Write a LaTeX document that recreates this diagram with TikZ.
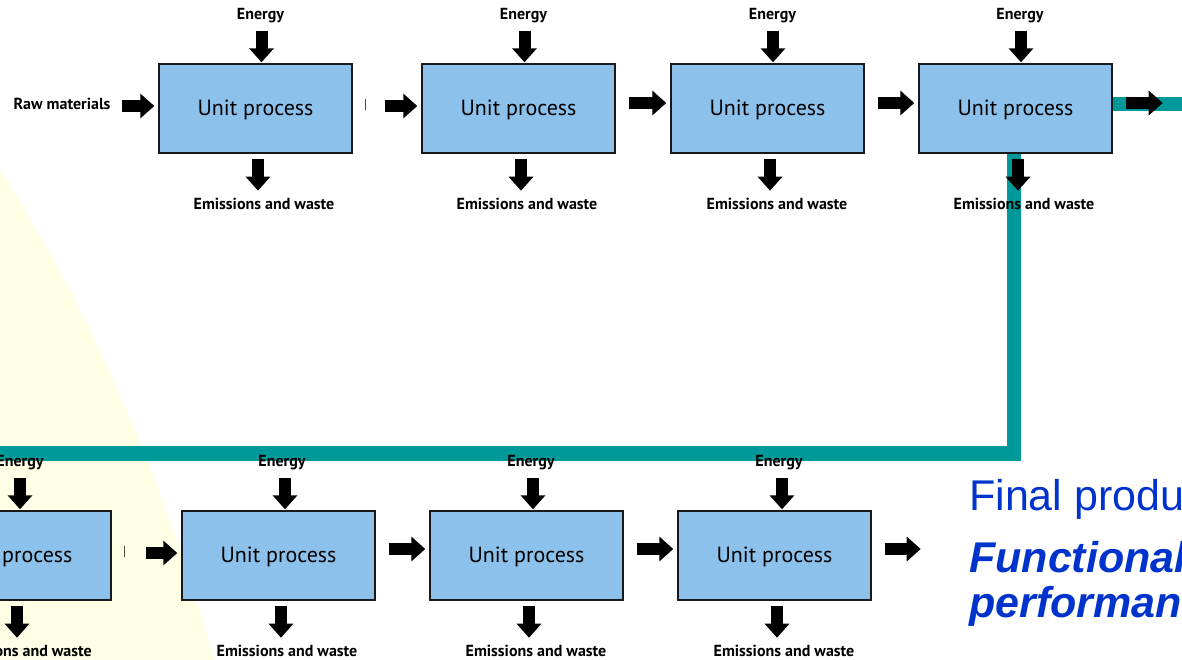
\documentclass[tikz,border=0pt]{standalone}
\usepackage{fontspec}
\setmainfont{Liberation Sans}
\newfontfamily\boxfont{PT Sans}
\usetikzlibrary{arrows.meta,calc}
\definecolor{boxblue}{RGB}{139,193,234}
\definecolor{tealbar}{RGB}{0,153,153}
\definecolor{titleblue}{RGB}{0,51,204}
\definecolor{paleyellow}{RGB}{255,255,230}
\begin{document}
\begin{tikzpicture}[x=1pt,y=-1pt,
  unitbox/.style={draw=black!90, line width=1.4pt, fill=boxblue, minimum width=193pt, minimum height=89pt, inner sep=0pt, text height=15pt, text depth=2pt, font=\boxfont\fontsize{22}{24}\selectfont},
  lbl/.style={font=\boxfont\bfseries\fontsize{16}{18}\selectfont, inner sep=1pt},
  blockarrow/.style={line width=12pt, -{Triangle[width=24pt,length=14pt]}},
  flow/.style={blockarrow, shorten <=13pt, shorten >=4pt},
  tealline/.style={draw=tealbar, line width=14.5pt, line join=miter},
  cursor/.style={draw=black!70, line width=0.8pt},
  bigtext/.style={anchor=base west, inner sep=0pt, text=titleblue, font=\fontsize{43}{48}\selectfont}
]
\useasboundingbox (0,0) rectangle (1182,659);
\clip (0,0) rectangle (1182,659);
% pale yellow background shape
\fill[paleyellow] (0,170) .. controls (60,262) and (150,430) .. (215,662) -- (0,662) -- cycle;

% process boxes
\node[unitbox] (b1) at (255.5,108.5) {Unit process};
\node[unitbox] (b2) at (518.5,108.5) {Unit process};
\node[unitbox] (b3) at (767.5,108.5) {Unit process};
\node[unitbox] (b4) at (1015.5,108.5) {Unit process};
\node[unitbox] (b5) at (14.5,555.5) {Unit process};
\node[unitbox] (b6) at (278.5,555.5) {Unit process};
\node[unitbox] (b7) at (526.5,555.5) {Unit process};
\node[unitbox] (b8) at (774.5,555.5) {Unit process};

% teal connection lines (behind labels and arrows)
\coordinate (tl) at ($(b5.north west)+(-10,-57)$);
\draw[tealline] ([xshift=-1.5pt]b4.south) |- (tl);
\draw[tealline] ([yshift=4.5pt]b4.east) -- ++(90,0);
% redraw box 4 over the teal line start
\node[unitbox] at (b4) {Unit process};

% energy inputs and emission outputs
\foreach \b/\ex/\ax/\wx in {b1/5/6/8.5, b2/5/6/8.5, b3/5/5.5/9.5, b4/4.5/5.5/8.5, b5/5.5/5.5/7, b6/3.5/6.5/8.5, b7/4.5/6.5/9.5, b8/4.5/7.5/9.5}{
  \node[lbl] (e\b) at ([xshift=\ex pt,yshift=48pt]\b.north) {Energy};
  \draw[blockarrow] ($(\b.north)+(\ax,-32)$) -- ($(\b.north)+(\ax,-1)$);
  \node[lbl] (w\b) at ([xshift=\wx pt,yshift=-50pt]\b.south) {Emissions and waste};
  \draw[blockarrow] ($(\b.south)+(2.5,5)$) -- ($(\b.south)+(2.5,37)$);
}

% raw materials input
\node[lbl] (raw) at (62,104) {Raw materials};
\draw[blockarrow, shorten >=4pt] ($(raw.east |- b1.west)+(10,-2.5)$) -- ([yshift=2.5pt]b1.west);

% flow between boxes
\draw[flow, shorten <=32pt] ([yshift=2.5pt]b1.east) -- ([yshift=2.5pt]b2.west);
\draw[flow] ([yshift=5.5pt]b2.east) -- ([yshift=5.5pt]b3.west);
\draw[flow] ([yshift=5.5pt]b3.east) -- ([yshift=5.5pt]b4.west);
\draw[blockarrow, shorten <=13pt] ([yshift=5.5pt]b4.east) -- ++(50,0);
\draw[flow, shorten <=34pt] ([yshift=2.5pt]b5.east) -- ([yshift=2.5pt]b6.west);
\draw[flow] ([yshift=6.5pt]b6.east) -- ([yshift=6.5pt]b7.west);
\draw[flow] ([yshift=6.5pt]b7.east) -- ([yshift=6.5pt]b8.west);
\draw[blockarrow, shorten <=13pt] ([yshift=6.5pt]b8.east) -- ++(49,0);

% small text cursors
\draw[cursor] ($(b1.east)+(13,-10)$) -- ++(0,11);
\draw[cursor] ($(b5.east)+(13,-10)$) -- ++(0,11);

% final product text
\node[bigtext] (fp) at (969,510) {Final product};
\node[bigtext, font=\fontsize{43}{48}\selectfont\bfseries\itshape] (fu) at (969,572) {Functional};
\node[bigtext, font=\fontsize{43}{48}\selectfont\bfseries\itshape] (pf) at (969,617) {performance};
\end{tikzpicture}
\end{document}
